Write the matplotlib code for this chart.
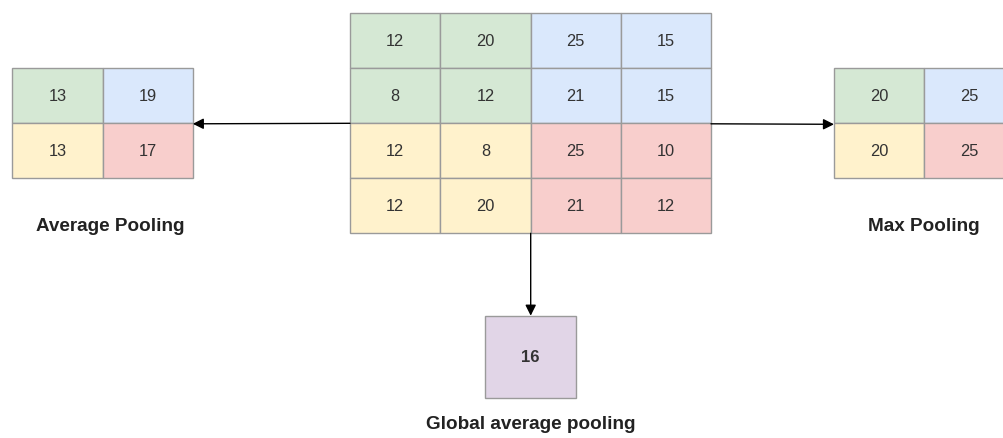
import matplotlib
matplotlib.use("Agg")
import matplotlib.pyplot as plt
from matplotlib.patches import Rectangle

# input feature map (4x4) and pooled outputs
grid_vals = [[12, 20, 25, 15],
             [8, 12, 21, 15],
             [12, 8, 25, 10],
             [12, 20, 21, 12]]
avg_vals = [[13, 19],
            [13, 17]]
max_vals = [[20, 25],
            [20, 25]]
gap_val = 16

# quadrant colours (draw.io palette)
quad_colors = [["#d5e8d4", "#dae8fc"],
               ["#fff2cc", "#f8cecc"]]
gap_color = "#e1d5e7"

W, H = 1004, 439
CW, CH = 90.3, 55
EDGE = "#9a9a9a"
TXT = "#333333"
FONT = "Liberation Sans"

fig = plt.figure(figsize=(W / 100, H / 100), dpi=100)
ax = fig.add_axes([0, 0, 1, 1])
ax.set_xlim(0, W)
ax.set_ylim(H, 0)
ax.axis("off")


def draw_grid(x0, y0, vals, block):
	for r, row in enumerate(vals):
		for c, v in enumerate(row):
			col = quad_colors[r // block][c // block]
			x = x0 + c * CW
			y = y0 + r * CH
			ax.add_patch(Rectangle((x, y), CW, CH, facecolor=col, edgecolor=EDGE, lw=1))
			ax.text(x + CW / 2, y + CH / 2, str(v), ha="center", va="center",
				fontsize=11.8, color=TXT, family=FONT)


draw_grid(350, 14.3, grid_vals, 2)
draw_grid(12.3, 69.3, avg_vals, 1)
draw_grid(834, 69.3, max_vals, 1)

# global average pooling box
ax.add_patch(Rectangle((485.3, 316.7), 90.7, 82.3, facecolor=gap_color, edgecolor=EDGE, lw=1))
ax.text(530.6, 358, str(gap_val), ha="center", va="center", fontsize=12,
	fontweight="bold", color=TXT, family=FONT)

arrow = dict(arrowstyle="-|>", color="black", lw=1, mutation_scale=16, shrinkA=0, shrinkB=0)
ax.annotate("", xy=(192.8, 124.8), xytext=(350, 124.3), arrowprops=arrow)
ax.annotate("", xy=(834, 125.3), xytext=(711, 124.8), arrowprops=arrow)
ax.annotate("", xy=(530.7, 316.7), xytext=(530.7, 234.3), arrowprops=arrow)

lab = dict(ha="center", va="center", fontsize=13.6, fontweight="bold", color="#222222", family=FONT)
ax.text(110, 226.5, "Average Pooling", **lab)
ax.text(924, 226.5, "Max Pooling", **lab)
ax.text(530.7, 425, "Global average pooling", **lab)

fig.savefig("out.png", dpi=100, facecolor="white")
